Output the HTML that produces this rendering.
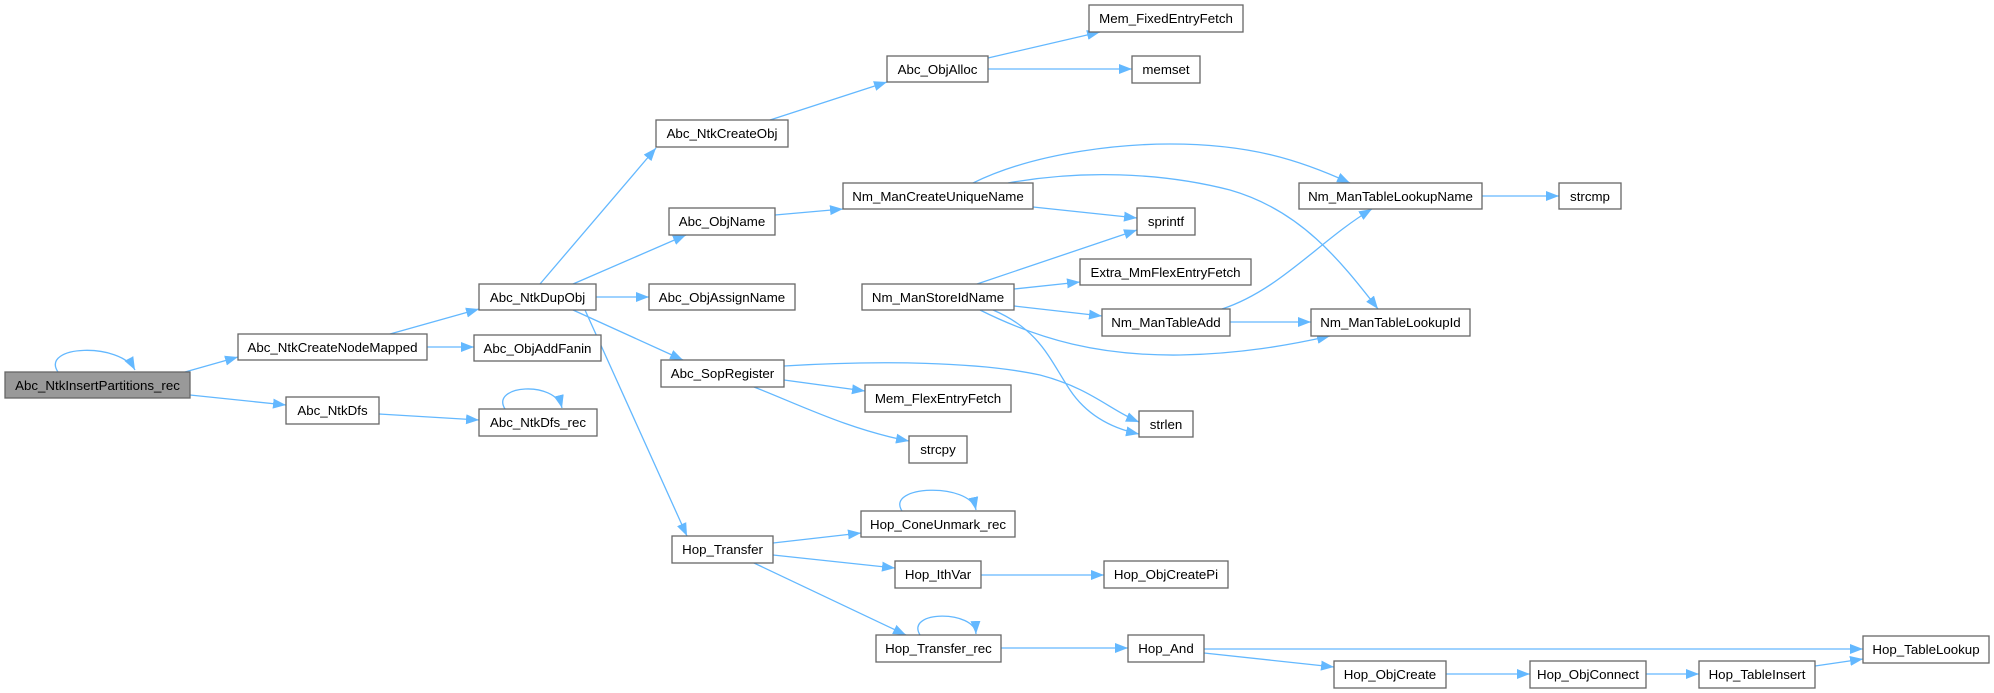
<!DOCTYPE html>
<html><head><meta charset="utf-8"><style>
html,body{margin:0;padding:0;background:#fff}
svg{display:block}
text{font-family:"Liberation Sans",Arial,sans-serif;font-size:13.3px;fill:#000}
.n{fill:#fff;stroke:#666;stroke-width:1.3}
.e{fill:none;stroke:#63b8ff;stroke-width:1.3}
</style></head><body>
<svg width="1994" height="693" viewBox="0 0 1994 693" xmlns="http://www.w3.org/2000/svg">
<defs><marker id="a" markerUnits="userSpaceOnUse" markerWidth="14" markerHeight="12" refX="13" refY="5" orient="auto"><path d="M0,0 L13,5 L0,10 Z" fill="#63b8ff"/></marker></defs>
<g class="e" marker-end="url(#a)">
<path d="M58,372 C40,345 120,342 135,370"/>
<path d="M185,372 L238,357"/>
<path d="M190,395 L286,405"/>
<path d="M390,334 L479,309"/>
<path d="M427,347 L474,347"/>
<path d="M379,414 L479,420"/>
<path d="M505,409 C490,385 555,380 562,408"/>
<path d="M540,284 L656,148"/>
<path d="M573,284 L686,235"/>
<path d="M596,297 L649,297"/>
<path d="M573,310 L683,360"/>
<path d="M585,310 L687,536"/>
<path d="M770,120 L887,82"/>
<path d="M988,58 L1100,32"/>
<path d="M988,69 L1132,69"/>
<path d="M775,215 L843,209"/>
<path d="M1033,207 L1137,218"/>
<path d="M973,183 C1040,150 1130,144 1170,144 C1250,144 1300,160 1350,183"/>
<path d="M1008,183 C1080,170 1160,172 1230,190 C1300,210 1340,260 1378,309"/>
<path d="M977,284 L1137,230"/>
<path d="M1014,289 L1080,282"/>
<path d="M1014,306 L1102,316"/>
<path d="M980,310 C1040,340 1100,356 1180,355 C1240,354 1290,345 1330,336"/>
<path d="M993,310 C1040,330 1050,360 1070,390 C1090,420 1120,430 1139,434"/>
<path d="M784,366 C880,360 980,362 1040,375 C1090,388 1110,410 1139,422"/>
<path d="M1222,309 C1280,290 1320,240 1372,209"/>
<path d="M1230,322 L1311,322"/>
<path d="M1482,196 L1559,196"/>
<path d="M784,380 L865,391"/>
<path d="M754,387 C800,405 850,430 909,441"/>
<path d="M773,543 L861,533"/>
<path d="M773,555 L895,568"/>
<path d="M754,563 L906,635"/>
<path d="M902,511 C885,485 970,482 976,510"/>
<path d="M920,635 C905,610 975,610 976,634"/>
<path d="M981,575 L1104,575"/>
<path d="M1001,648 L1128,648"/>
<path d="M1204,649 L1863,649"/>
<path d="M1204,653 L1334,667"/>
<path d="M1446,674 L1530,674"/>
<path d="M1646,674 L1699,674"/>
<path d="M1815,666 L1863,659"/>
</g>
<g>
<rect x="5" y="372" width="185" height="26" fill="#999" stroke="#666" stroke-width="1.3"/><text x="97.5" y="390" text-anchor="middle">Abc_NtkInsertPartitions_rec</text>
<rect class="n" x="238" y="334" width="189" height="26"/><text x="332.5" y="352" text-anchor="middle">Abc_NtkCreateNodeMapped</text>
<rect class="n" x="286" y="397" width="93" height="27"/><text x="332.5" y="415" text-anchor="middle">Abc_NtkDfs</text>
<rect class="n" x="479" y="284" width="117" height="26"/><text x="537.5" y="302" text-anchor="middle">Abc_NtkDupObj</text>
<rect class="n" x="474" y="335" width="127" height="26"/><text x="537.5" y="353" text-anchor="middle">Abc_ObjAddFanin</text>
<rect class="n" x="479" y="409" width="118" height="27"/><text x="538" y="427" text-anchor="middle">Abc_NtkDfs_rec</text>
<rect class="n" x="656" y="120" width="132" height="27"/><text x="722" y="138" text-anchor="middle">Abc_NtkCreateObj</text>
<rect class="n" x="887" y="56" width="101" height="26"/><text x="937.5" y="74" text-anchor="middle">Abc_ObjAlloc</text>
<rect class="n" x="1089" y="5" width="154" height="27"/><text x="1166" y="23" text-anchor="middle">Mem_FixedEntryFetch</text>
<rect class="n" x="1132" y="56" width="68" height="27"/><text x="1166" y="74" text-anchor="middle">memset</text>
<rect class="n" x="669" y="208" width="106" height="27"/><text x="722" y="226" text-anchor="middle">Abc_ObjName</text>
<rect class="n" x="843" y="183" width="190" height="26"/><text x="938" y="201" text-anchor="middle">Nm_ManCreateUniqueName</text>
<rect class="n" x="1137" y="208" width="58" height="27"/><text x="1166" y="226" text-anchor="middle">sprintf</text>
<rect class="n" x="649" y="284" width="146" height="26"/><text x="722" y="302" text-anchor="middle">Abc_ObjAssignName</text>
<rect class="n" x="862" y="284" width="152" height="26"/><text x="938" y="302" text-anchor="middle">Nm_ManStoreIdName</text>
<rect class="n" x="1080" y="259" width="171" height="26"/><text x="1165.5" y="277" text-anchor="middle">Extra_MmFlexEntryFetch</text>
<rect class="n" x="1102" y="309" width="128" height="27"/><text x="1166" y="327" text-anchor="middle">Nm_ManTableAdd</text>
<rect class="n" x="1299" y="183" width="183" height="26"/><text x="1390.5" y="201" text-anchor="middle">Nm_ManTableLookupName</text>
<rect class="n" x="1559" y="183" width="62" height="26"/><text x="1590" y="201" text-anchor="middle">strcmp</text>
<rect class="n" x="1311" y="309" width="159" height="27"/><text x="1390.5" y="327" text-anchor="middle">Nm_ManTableLookupId</text>
<rect class="n" x="1139" y="411" width="54" height="26"/><text x="1166" y="429" text-anchor="middle">strlen</text>
<rect class="n" x="661" y="360" width="123" height="27"/><text x="722.5" y="378" text-anchor="middle">Abc_SopRegister</text>
<rect class="n" x="865" y="385" width="146" height="27"/><text x="938" y="403" text-anchor="middle">Mem_FlexEntryFetch</text>
<rect class="n" x="909" y="436" width="58" height="27"/><text x="938" y="454" text-anchor="middle">strcpy</text>
<rect class="n" x="861" y="511" width="154" height="26"/><text x="938" y="529" text-anchor="middle">Hop_ConeUnmark_rec</text>
<rect class="n" x="672" y="536" width="101" height="27"/><text x="722.5" y="554" text-anchor="middle">Hop_Transfer</text>
<rect class="n" x="895" y="561" width="86" height="27"/><text x="938" y="579" text-anchor="middle">Hop_IthVar</text>
<rect class="n" x="1104" y="561" width="124" height="27"/><text x="1166" y="579" text-anchor="middle">Hop_ObjCreatePi</text>
<rect class="n" x="876" y="635" width="125" height="27"/><text x="938.5" y="653" text-anchor="middle">Hop_Transfer_rec</text>
<rect class="n" x="1128" y="635" width="76" height="27"/><text x="1166" y="653" text-anchor="middle">Hop_And</text>
<rect class="n" x="1334" y="661" width="112" height="27"/><text x="1390" y="679" text-anchor="middle">Hop_ObjCreate</text>
<rect class="n" x="1530" y="661" width="116" height="27"/><text x="1588" y="679" text-anchor="middle">Hop_ObjConnect</text>
<rect class="n" x="1699" y="661" width="116" height="27"/><text x="1757" y="679" text-anchor="middle">Hop_TableInsert</text>
<rect class="n" x="1863" y="636" width="126" height="27"/><text x="1926" y="654" text-anchor="middle">Hop_TableLookup</text>
</g>
</svg>
</body></html>
